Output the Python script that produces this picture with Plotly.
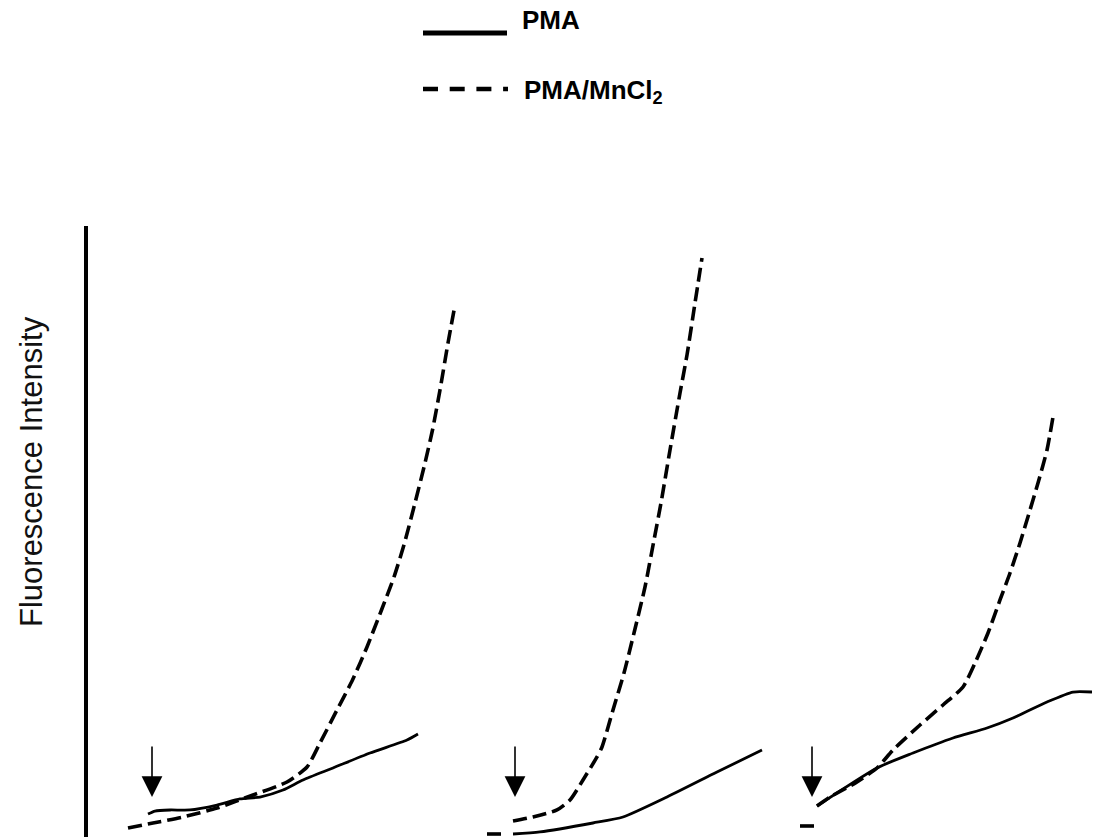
import plotly.graph_objects as go

# ---------------- data (arbitrary units) ----------------
# time in min relative to the addition (arrow), intensity in a.u.
p1_pma_t = [-0.2, 0.15, 0.9, 1.9, 3.25, 4.4, 5.4, 6.55, 7.55, 9.05, 10.9, 12.75, 13.3]
p1_pma_i = [3.47, 3.99, 4.17, 4.17, 5.03, 6.08, 6.42, 7.64, 9.38, 11.46, 14.06, 16.32, 17.36]
p1_mn_t = [-1.2, 0.05, 1.55, 3.25, 5.05, 6.75, 7.75, 8.4, 9.25, 10.025, 10.75, 11.475, 12.1,
           12.625, 13.15, 13.65, 14.025, 14.4, 14.8, 15.15]
p1_mn_i = [1.04, 1.91, 2.95, 4.51, 6.77, 9.03, 11.63, 15.80, 21.53, 26.74, 32.47, 38.89, 44.62,
           50.52, 57.47, 64.41, 70.14, 77.08, 85.24, 91.84]

p2_pma_t = [-0.1, 1.25, 3.9, 5.4, 7.6, 10.1, 12.35]
p2_pma_i = [0.0, 0.35, 1.91, 2.95, 6.42, 10.76, 14.58]
p2_mn_t = [-1.4, -0.5, None, -0.1, 0.9, 2.1, 2.75, 3.4, 4.1, 4.35, 4.9, 5.45, 5.95, 6.5, 6.95,
           7.3, 7.75, 8.25, 8.6, 9.0, 9.35]
p2_mn_i = [0.0, 0.0, None, 2.26, 2.95, 4.17, 5.90, 9.38, 13.37, 15.10, 21.53, 27.95, 34.90,
           42.88, 51.04, 57.47, 66.67, 76.56, 83.16, 92.19, 100.0]

p3_pma_t = [0.25, 3.25, 5.05, 7.05, 8.75, 10.05, 11.75, 13.05, 14.0]
p3_pma_i = [4.86, 11.46, 14.06, 16.67, 18.40, 20.14, 22.92, 24.65, 24.65]
p3_mn_t = [-0.6, 0.15, None, 0.25, 0.9, 2.25, 3.25, 4.05, 5.4, 6.55, 7.55, 8.15, 8.8, 9.4,
           9.9, 10.4, 10.9, 11.3, 11.75, 12.05]
p3_mn_i = [1.39, 1.39, None, 4.86, 6.42, 9.03, 11.46, 14.58, 18.92, 22.40, 25.52, 29.69,
           34.90, 40.63, 45.31, 50.52, 56.25, 60.94, 66.67, 72.40]

# addition arrows (time, head-tip intensity, tail intensity)
arrow_t = [0, 0, 0]
arrow_head = [6.42, 6.42, 6.42]
arrow_tail = [15.45, 15.45, 15.45]

series_names = ["PMA", "PMA/MnCl<sub>2</sub>"]
y_title = "Fluorescence Intensity"

# ---------------- figure ----------------
W, H = 1094, 839
fig = go.Figure()

panels = [
    ("x", p1_pma_t, p1_pma_i, p1_mn_t, p1_mn_i),
    ("x2", p2_pma_t, p2_pma_i, p2_mn_t, p2_mn_i),
    ("x3", p3_pma_t, p3_pma_i, p3_mn_t, p3_mn_i),
]
for k, (xa, pt, pi, mt, mi) in enumerate(panels):
    fig.add_trace(go.Scatter(x=pt, y=pi, xaxis=xa, yaxis="y", mode="lines",
                             line=dict(color="black", width=2.8, shape="spline", smoothing=0.6),
                             showlegend=False, hoverinfo="skip"))
    fig.add_trace(go.Scatter(x=mt, y=mi, xaxis=xa, yaxis="y", mode="lines",
                             line=dict(color="black", width=3.6, dash="14px,6px",
                                       shape="spline", smoothing=0.6),
                             connectgaps=False, showlegend=False, hoverinfo="skip"))

# axis geometry (pixel based layout)
def px_x(p):
    return p / W

def px_y(p):
    return 1 - p / H

panel_px = [(100, 470, 152), (480, 780, 515), (790, 1094, 812)]
xaxis_common = dict(visible=False, showgrid=False, zeroline=False, fixedrange=True)
layout_axes = {}
for k, (p0, p1, a) in enumerate(panel_px):
    name = "xaxis" if k == 0 else f"xaxis{k+1}"
    layout_axes[name] = dict(domain=[px_x(p0), px_x(p1)],
                             range=[(p0 - a) / 20, (p1 - a) / 20],
                             anchor="y", **xaxis_common)

fig.update_layout(**layout_axes)
fig.update_layout(
    yaxis=dict(domain=[px_y(837), px_y(226)], range=[-3 / 5.76, 608 / 5.76],
               showline=True, linecolor="black", linewidth=4, showgrid=False,
               zeroline=False, showticklabels=False, ticks="", anchor="free",
               position=px_x(86), fixedrange=True),
    width=W, height=H, margin=dict(l=0, r=0, t=0, b=0),
    paper_bgcolor="white", plot_bgcolor="rgba(0,0,0,0)",
    showlegend=False,
)

# addition arrows
xrefs = ["x", "x2", "x3"]
for k in range(3):
    fig.add_annotation(x=arrow_t[k], y=arrow_head[k], ax=arrow_t[k], ay=arrow_tail[k],
                       xref=xrefs[k], yref="y", axref=xrefs[k], ayref="y",
                       text="", showarrow=True, arrowhead=2, arrowsize=2.6,
                       arrowwidth=1.6, arrowcolor="black")

# y title
fig.add_annotation(x=px_x(31), y=px_y(472), xref="paper", yref="paper",
                   text=y_title, textangle=-90, showarrow=False,
                   font=dict(family="Arial, Liberation Sans", size=31, color="#111111"),
                   xanchor="center", yanchor="middle")

# legend (drawn manually)
fig.add_shape(type="line", xref="paper", yref="paper",
              x0=px_x(423), x1=px_x(507), y0=px_y(33), y1=px_y(33),
              line=dict(color="black", width=5))
fig.add_shape(type="line", xref="paper", yref="paper",
              x0=px_x(423), x1=px_x(508), y0=px_y(89), y1=px_y(89),
              line=dict(color="black", width=4.5, dash="15px,11.7px"))
fig.add_annotation(x=px_x(520), y=px_y(20), xref="paper", yref="paper",
                   text="<b>" + series_names[0] + "</b>", showarrow=False,
                   xanchor="left", yanchor="middle",
                   font=dict(family="Arial, Liberation Sans", size=26, color="black"))
fig.add_annotation(x=px_x(522), y=px_y(91), xref="paper", yref="paper",
                   text="<b>" + series_names[1] + "</b>", showarrow=False,
                   xanchor="left", yanchor="middle",
                   font=dict(family="Arial, Liberation Sans", size=26, color="black"))

fig.write_html("out.html")
